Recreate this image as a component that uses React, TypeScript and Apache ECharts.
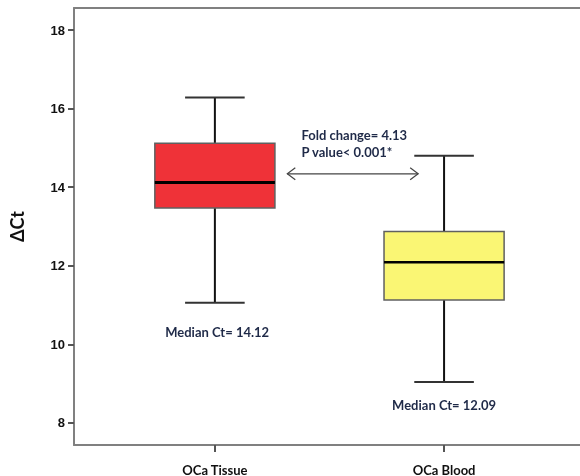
import React, { useEffect, useRef } from "react";
import * as echarts from "echarts";

const categories = ["OCa Tissue", "OCa Blood"];
const categoryPositions = [1, 2];
// [min, q1, median, q3, max]
const boxStats = [
  [11.06, 13.47, 14.12, 15.12, 16.28],
  [9.04, 11.13, 12.09, 12.87, 14.8],
];
const boxColors = ["#EF3238", "#FAF674"];
const medianLabels = ["Median Ct= 14.12", "Median Ct= 12.09"];
const medianLabelPos = [
  [1.01, 10.32],
  [2.0, 8.45],
];
const foldLines = ["Fold change= 4.13", "P value< 0.001*"];
const foldLinePos = [
  [1.378, 15.34],
  [1.378, 14.89],
];
const arrowSpan = [1.316, 1.887, 14.34];
const yTicks = [8, 10, 12, 14, 16, 18];

export default function App() {
  const ref = useRef<HTMLDivElement>(null);
  useEffect(() => {
    if (!ref.current) return;
    const chart = echarts.init(ref.current, null, { renderer: "svg" });
    const boxData = categoryPositions.map((x, i) => [x, ...boxStats[i]]);
    const font = "Lato, 'Liberation Sans', sans-serif";
    chart.setOption({
      animation: false,
      grid: {
        left: 70,
        right: 0,
        top: 8,
        bottom: 31,
      },
      xAxis: [
        {
          type: "value",
          min: 0.3853,
          max: 2.5931,
          splitLine: { show: false },
          axisLine: { show: true, lineStyle: { color: "#808080", width: 2 } },
          axisTick: {
            show: true,
            customValues: categoryPositions,
            length: 7,
            inside: false,
            lineStyle: { color: "#555", width: 2 },
          },
          axisLabel: {
            customValues: categoryPositions,
            formatter: (v: number) => categories[categoryPositions.indexOf(Math.round(v))] ?? "",
            margin: 18,
            color: "#111",
            fontWeight: "bold",
            fontSize: 13,
            fontFamily: font,
          },
        },
        {
          type: "value",
          position: "top",
          min: 0.3853,
          max: 2.5931,
          splitLine: { show: false },
          axisLine: { show: true, lineStyle: { color: "#808080", width: 2 } },
          axisTick: { show: false },
          axisLabel: { show: false },
        },
      ],
      yAxis: {
        type: "value",
        min: 7.44,
        max: 18.56,
        name: "ΔCt",
        nameLocation: "middle",
        nameGap: 48,
        nameRotate: 90,
        nameTextStyle: { fontSize: 18, fontWeight: "bold", color: "#111", fontFamily: font },
        splitLine: { show: false },
        axisLine: { show: true, lineStyle: { color: "#808080", width: 2 } },
        axisTick: {
          show: true,
          customValues: yTicks,
          length: 6,
          lineStyle: { color: "#555", width: 2 },
        },
        axisLabel: {
          customValues: yTicks,
          margin: 9,
          color: "#111",
          fontWeight: "bold",
          fontSize: 13,
          fontFamily: "'Liberation Sans', sans-serif",
        },
      },
      series: [
        {
          type: "custom",
          data: boxData,
          encode: { x: 0, y: [1, 2, 3, 4, 5] },
          renderItem: (params: any, api: any) => {
            const x = api.value(0);
            const i = params.dataIndex;
            const pMin = api.coord([x, api.value(1)]);
            const pQ1 = api.coord([x, api.value(2)]);
            const pMed = api.coord([x, api.value(3)]);
            const pQ3 = api.coord([x, api.value(4)]);
            const pMax = api.coord([x, api.value(5)]);
            const halfBox = (api.size([0.524, 0])[0] as number) / 2;
            const halfCap = (api.size([0.26, 0])[0] as number) / 2;
            const cx = pMed[0];
            return {
              type: "group",
              children: [
                { type: "line", shape: { x1: cx, y1: pMax[1], x2: cx, y2: pQ3[1] }, style: { stroke: "#111", lineWidth: 2 } },
                { type: "line", shape: { x1: cx, y1: pQ1[1], x2: cx, y2: pMin[1] }, style: { stroke: "#111", lineWidth: 2 } },
                { type: "line", shape: { x1: cx - halfCap, y1: pMax[1], x2: cx + halfCap, y2: pMax[1] }, style: { stroke: "#333", lineWidth: 2 } },
                { type: "line", shape: { x1: cx - halfCap, y1: pMin[1], x2: cx + halfCap, y2: pMin[1] }, style: { stroke: "#333", lineWidth: 2 } },
                {
                  type: "rect",
                  shape: { x: cx - halfBox, y: pQ3[1], width: halfBox * 2, height: pQ1[1] - pQ3[1] },
                  style: { fill: boxColors[i], stroke: "#606060", lineWidth: 1.5 },
                },
                { type: "line", shape: { x1: cx - halfBox, y1: pMed[1], x2: cx + halfBox, y2: pMed[1] }, style: { stroke: "#000", lineWidth: i === 0 ? 3 : 2.5 } },
              ],
            };
          },
          z: 2,
        },
        {
          type: "custom",
          data: [[arrowSpan[0], arrowSpan[2], arrowSpan[1]]],
          encode: { x: [0, 2], y: 1 },
          renderItem: (params: any, api: any) => {
            const p1 = api.coord([api.value(0), api.value(1)]);
            const p2 = api.coord([api.value(2), api.value(1)]);
            const children: any[] = [
              { type: "line", shape: { x1: p1[0], y1: p1[1], x2: p2[0], y2: p2[1] }, style: { stroke: "#444", lineWidth: 1.2 } },
              { type: "polyline", shape: { points: [[p1[0] + 8, p1[1] - 6], [p1[0], p1[1]], [p1[0] + 8, p1[1] + 6]] }, style: { stroke: "#444", fill: "none", lineWidth: 1.2 } },
              { type: "polyline", shape: { points: [[p2[0] - 8, p2[1] - 6], [p2[0], p2[1]], [p2[0] - 8, p2[1] + 6]] }, style: { stroke: "#444", fill: "none", lineWidth: 1.2 } },
            ];
            medianLabels.forEach((t, k) => {
              const p = api.coord(medianLabelPos[k]);
              children.push({
                type: "text",
                x: p[0],
                y: p[1],
                style: { text: t, align: "center", verticalAlign: "middle", fill: "#1F2A48", font: `bold 13px ${font}` },
              });
            });
            foldLines.forEach((t, k) => {
              const p = api.coord(foldLinePos[k]);
              children.push({
                type: "text",
                x: p[0],
                y: p[1],
                style: { text: t, align: "left", verticalAlign: "middle", fill: "#1F2A48", font: `bold 13px ${font}` },
              });
            });
            return { type: "group", children };
          },
          z: 3,
        },
      ],
    });
    return () => chart.dispose();
  }, []);
  return <div ref={ref} style={{ width: 580, height: 476, position: "fixed", left: 0, top: 0 }} />;
}
